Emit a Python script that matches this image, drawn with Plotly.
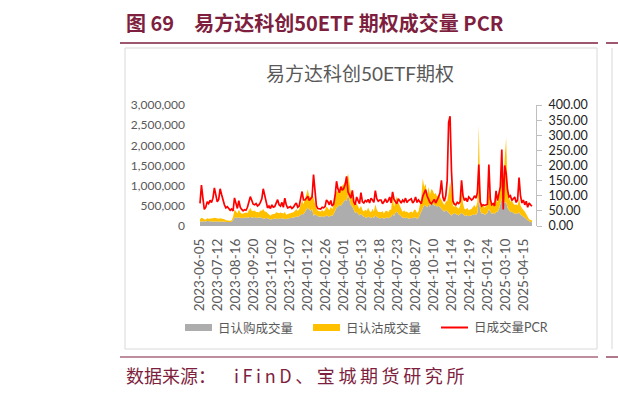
import plotly.graph_objects as go

# ---- data (volumes in thousands of contracts, sampled every 2 trading days) ----
tick_labels = ["2023-06-05", "2023-07-12", "2023-08-16", "2023-09-20", "2023-11-02",
               "2023-12-07", "2024-01-12", "2024-02-26", "2024-04-01", "2024-05-13",
               "2024-06-18", "2024-07-23", "2024-08-27", "2024-10-10", "2024-11-14",
               "2024-12-19", "2025-01-24", "2025-03-10", "2025-04-15"]
tick_day_index = [0, 25, 50, 75, 100, 125, 150, 175, 200, 225, 250, 275, 300,
                  325, 350, 375, 400, 425, 450]

call_volume_k = [
    110, 105, 120, 115, 110, 125, 118, 112, 120, 115,
    108, 115, 120, 112, 105, 110, 118, 112, 100, 95, 96,
    92, 98, 150, 205, 215, 198, 220, 210, 195, 205,
    210, 220, 200, 215, 230, 205, 215, 225, 200, 210, 205,
    215, 200, 190, 180, 205, 195, 175, 160, 170, 185,
    180, 195, 170, 185, 200, 175, 190, 180, 165, 185, 188,
    190, 205, 210, 220, 240, 225, 250, 270, 300, 290,
    350, 420, 460, 400, 380, 420, 250, 300, 260, 240, 235,
    230, 250, 220, 240, 260, 245, 230, 260, 250, 300,
    400, 450, 480, 520, 500, 560, 600, 650, 620, 780, 640,
    520, 480, 380, 320, 350, 300, 260, 300, 250, 230,
    220, 200, 240, 210, 190, 230, 200, 260, 220, 200, 195,
    190, 210, 180, 200, 220, 190, 210, 230, 300, 250,
    330, 360, 300, 280, 240, 200, 220, 190, 210, 180, 190,
    200, 190, 220, 210, 180, 200, 280, 400, 480, 520,
    500, 460, 540, 480, 600, 550, 500, 520, 480, 500, 460,
    420, 380, 350, 400, 360, 340, 300, 260, 300, 320,
    300, 280, 260, 300, 320, 300, 260, 250, 270, 240, 250,
    260, 280, 300, 270, 320, 700, 380, 300, 320, 280,
    300, 320, 420, 350, 300, 330, 290, 360, 340, 420, 560,
    700, 800, 550, 600, 450, 380, 340, 360, 320, 300,
    320, 300, 340, 280, 260, 240, 220, 180, 140, 110, 100, 95,
]
put_volume_k = [
    60, 100, 75, 45, 50, 70, 62, 68, 66, 75,
    95, 76, 68, 70, 90, 80, 70, 55, 45, 43, 42,
    40, 45, 75, 190, 155, 115, 185, 130, 107, 103,
    113, 114, 124, 168, 223, 174, 155, 158, 148, 139, 130,
    168, 180, 234, 180, 148, 117, 116, 93, 119, 115,
    115, 144, 148, 130, 132, 137, 118, 166, 116, 111, 120,
    122, 119, 130, 154, 182, 140, 165, 243, 342, 249,
    301, 386, 450, 336, 342, 403, 425, 300, 172, 139, 135,
    129, 155, 132, 154, 224, 196, 161, 218, 165, 216,
    300, 430, 370, 400, 450, 440, 450, 450, 510, 520, 420,
    300, 240, 220, 180, 210, 180, 160, 200, 150, 130,
    180, 170, 220, 160, 150, 200, 160, 280, 190, 150, 160,
    150, 160, 130, 170, 160, 150, 190, 170, 480, 230,
    300, 380, 280, 200, 190, 150, 170, 160, 150, 140, 150,
    160, 140, 180, 190, 140, 160, 240, 300, 700, 450,
    550, 300, 430, 300, 320, 330, 280, 300, 250, 280, 250,
    230, 180, 170, 200, 260, 480, 790, 640, 200, 160,
    200, 180, 170, 200, 560, 260, 170, 160, 180, 150, 160,
    170, 200, 220, 190, 280, 1800, 300, 180, 200, 170,
    200, 230, 560, 260, 200, 230, 190, 300, 250, 330, 350,
    500, 200, 1100, 1580, 500, 320, 260, 280, 240, 220,
    220, 210, 330, 230, 180, 170, 140, 120, 80, 60, 50, 45,
]
pcr = [
    75, 135, 92, 55, 62, 80, 74, 85, 78, 92,
    126, 95, 80, 88, 123, 104, 84, 70, 60, 64, 58,
    52, 56, 50, 93, 72, 58, 84, 62, 55, 50,
    54, 52, 62, 78, 97, 85, 72, 70, 74, 66, 70,
    78, 90, 123, 100, 72, 60, 66, 58, 70, 62,
    64, 74, 87, 70, 66, 78, 62, 92, 70, 60, 62,
    64, 58, 62, 70, 76, 62, 66, 90, 114, 86,
    86, 92, 98, 84, 90, 96, 170, 100, 66, 58, 57,
    56, 62, 60, 64, 86, 80, 70, 84, 66, 72,
    100, 148, 122, 110, 130, 118, 124, 138, 164, 112, 100,
    92, 118, 80, 70, 96, 84, 74, 110, 80, 76,
    84, 80, 88, 76, 92, 86, 78, 117, 90, 82, 86,
    86, 74, 80, 90, 78, 84, 96, 76, 113, 88,
    80, 74, 90, 82, 76, 86, 80, 92, 78, 84, 88,
    90, 76, 82, 96, 78, 86, 80, 74, 98, 112,
    120, 100, 86, 78, 74, 80, 88, 76, 84, 96, 110,
    151, 96, 82, 100, 150, 343, 363, 180, 82, 72,
    70, 78, 74, 80, 151, 100, 84, 92, 80, 96, 90,
    86, 90, 100, 92, 110, 203, 80, 66, 70, 68,
    70, 72, 203, 90, 70, 74, 66, 116, 84, 110, 130,
    253, 55, 200, 175, 120, 96, 100, 84, 90, 96,
    78, 86, 160, 100, 76, 86, 70, 82, 62, 76, 70, 66,
]
day_index = list(range(0, 2 * len(pcr), 2))

call_volume = [v * 1000 for v in call_volume_k]
put_volume = [v * 1000 for v in put_volume_k]

# ---- layout helpers (pixel -> paper) ----
W, H = 618, 394
L, R, T, B = 198, 82, 105, 168
PW, PH = W - L - R, H - T - B


def px(x):
    return (x - L) / PW


def py(y):
    return (H - B - y) / PH


MAROON = "#7E1F40"
GREY_TXT = "#595959"
FONT = "Lato, 'Noto Sans CJK SC', sans-serif"
CJK = "'Noto Sans CJK SC', sans-serif"
TS = "\u2009"

fig = go.Figure()
fig.add_trace(go.Scatter(x=day_index, y=call_volume, name="日认购成交量",
                         mode="lines", stackgroup="vol", line=dict(width=0, color="#ADADAD"),
                         fillcolor="#ADADAD", showlegend=False))
fig.add_trace(go.Scatter(x=day_index, y=put_volume, name="日认沽成交量",
                         mode="lines", stackgroup="vol", line=dict(width=0, color="#FFC000"),
                         fillcolor="#FFC000", showlegend=False))
fig.add_trace(go.Scatter(x=day_index, y=pcr, name="日成交量PCR", yaxis="y2",
                         mode="lines", line=dict(width=1.7, color="#FF0000"),
                         showlegend=False))

fig.update_layout(
    width=W, height=H,
    margin=dict(l=L, r=R, t=T, b=B, pad=0),
    paper_bgcolor="white", plot_bgcolor="white",
    font=dict(family=FONT, color=GREY_TXT),
    xaxis=dict(range=[-2.8, 467.6], tickmode="array", tickvals=tick_day_index,
               ticktext=tick_labels, tickangle=-90, showgrid=False, zeroline=False,
               showline=False, ticks="", tickfont=dict(size=13.5, color=GREY_TXT),
               ticklabelstandoff=9),
    yaxis=dict(range=[0, 3000000], dtick=500000, tickformat=",", showgrid=False,
               zeroline=False, showline=False, ticks="",
               tickfont=dict(size=12, color=GREY_TXT), ticklabelstandoff=12),
    yaxis2=dict(range=[0, 400], dtick=50, tickformat=".2f", overlaying="y", side="right",
                showgrid=False, zeroline=False, showline=True, linecolor="#BFBFBF",
                linewidth=1, ticks="outside", ticklen=5, tickcolor="#BFBFBF",
                tickfont=dict(size=12.5, color="#222222"), ticklabelstandoff=4),
)

shapes = [
    dict(type="line", xref="paper", yref="paper", x0=px(120), x1=px(598), y0=py(43), y1=py(43),
         line=dict(color=MAROON, width=1.5)),
    dict(type="line", xref="paper", yref="paper", x0=px(120), x1=px(598), y0=py(357), y1=py(357),
         line=dict(color=MAROON, width=1.2)),
    dict(type="line", xref="paper", yref="paper", x0=px(606), x1=px(620), y0=py(43), y1=py(43),
         line=dict(color=MAROON, width=1.5)),
    dict(type="line", xref="paper", yref="paper", x0=px(606), x1=px(620), y0=py(357), y1=py(357),
         line=dict(color=MAROON, width=1.2)),
    dict(type="line", xref="paper", yref="paper", x0=px(612), x1=px(612), y0=py(48), y1=py(349),
         line=dict(color="#D9D9D9", width=1)),
    dict(type="rect", xref="paper", yref="paper", x0=px(125), x1=px(597), y0=py(349), y1=py(48),
         line=dict(color="#D9D9D9", width=1), layer="below"),
    dict(type="rect", xref="paper", yref="paper", x0=px(185), x1=px(212), y0=py(331), y1=py(324),
         line=dict(width=0), fillcolor="#ADADAD"),
    dict(type="rect", xref="paper", yref="paper", x0=px(313), x1=px(340), y0=py(331), y1=py(324),
         line=dict(width=0), fillcolor="#FFC000"),
    dict(type="line", xref="paper", yref="paper", x0=px(441), x1=px(468), y0=py(327.5), y1=py(327.5),
         line=dict(color="#FF0000", width=2)),
]
fig.update_layout(shapes=shapes)

src2 = TS.join("iFinD") + TS + TS.join("、宝城期货研究所")
ann = [
    dict(text="<b>图 69\u3000易方达科创50ETF 期权成交量 PCR</b>", x=px(124), y=py(22),
         xanchor="left", yanchor="middle", font=dict(size=20, color=MAROON, family=CJK)),
    dict(text="易方达科创50ETF期权", x=px(360), y=py(73), xanchor="center", yanchor="middle",
         font=dict(size=19, color=GREY_TXT, family=FONT)),
    dict(text="日认购成交量", x=px(216), y=py(327.5), xanchor="left", yanchor="middle",
         font=dict(size=12.5, color=GREY_TXT, family=CJK)),
    dict(text="日认沽成交量", x=px(344), y=py(327.5), xanchor="left", yanchor="middle",
         font=dict(size=12.5, color=GREY_TXT, family=CJK)),
    dict(text="日成交量PCR", x=px(472), y=py(327.5), xanchor="left", yanchor="middle",
         font=dict(size=12.5, color=GREY_TXT, family=FONT)),
    dict(text="数据来源：", x=px(124), y=py(375), xanchor="left", yanchor="middle",
         font=dict(size=18, color=MAROON, family=CJK)),
    dict(text=src2, x=px(232), y=py(375), xanchor="left", yanchor="middle",
         font=dict(size=18, color=MAROON, family=CJK)),
]
for a in ann:
    a.update(xref="paper", yref="paper", showarrow=False)
fig.update_layout(annotations=ann)

fig.write_html("out.html")
